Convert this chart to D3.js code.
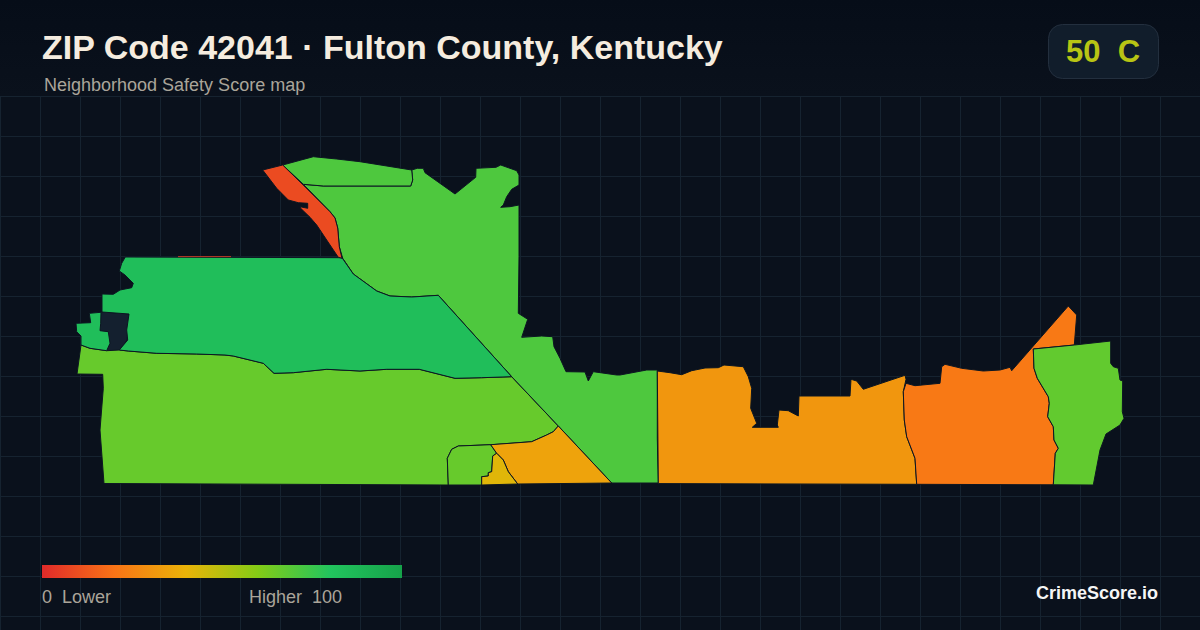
<!DOCTYPE html>
<html><head><meta charset="utf-8">
<script src="https://cdn.jsdelivr.net/npm/d3@7"></script>
<style>html,body{margin:0;padding:0;background:#0a111c}svg{display:block}text{white-space:pre;font-family:"Liberation Sans",Arial,sans-serif}</style>
</head><body><svg id="c" width="1200" height="630"></svg>
<script>
const titleText = "ZIP Code 42041 · Fulton County, Kentucky";
const subtitleText = "Neighborhood Safety Score map";
const badgeText = "50  C";
const brandText = "CrimeScore.io";
const legendLeft = "0  Lower";
const legendRight = "Higher  100";
const scoreStops = [0, 20, 40, 60, 80, 100];
const colorStops = ["#e02a2a", "#f97316", "#eab308", "#84cc16", "#22c55e", "#16a34a"];
const noDataColor = "#14202f";

// Boundaries in planar map units
const ringRed = [[262.7,170],[282.7,165],[305,186.7],[330,211.7],[335,218],[337.7,228],[339.3,246.7],[342,258.3],[338.3,257.3],[326.7,240],[316.7,225],[310,217.3],[300.7,208.3],[300,206.7],[307.7,208.3],[307.7,203.3],[298.3,202.7],[288.3,200],[276.7,188.3]];
const ringNorthStrip = [[282.7,165],[313.3,156.7],[336.7,159],[360,161.7],[411.7,170],[412.7,180],[410.7,186],[340,186],[323.3,186],[303.3,184.3]];
const ringNorth = [[303.3,184.3],[323.3,186],[340,186],[410.7,186],[412.7,180],[411.7,170],[417.3,168.3],[423.3,168.3],[425,172.7],[455,194],[475.7,177.3],[476,168.3],[496,167.3],[500.7,165],[516.7,170.7],[519,175],[519,185],[511.7,189.3],[506.7,196.7],[503.3,205],[500.7,207.3],[510,206.7],[519,205],[519,256.7],[518.3,313.3],[527.7,319.3],[521.7,337.3],[541.7,336],[552.7,336.7],[554,346.7],[560,358.3],[566,371.7],[585,372],[588.3,381],[593.3,371.7],[616.7,375],[620,375],[646.7,370],[657.3,370],[657.3,438.3],[658.3,483],[611.7,483],[558.3,426],[511.7,376.7],[438.3,295.3],[411.7,297],[390,296],[376.7,291],[353.3,274],[342.7,258.3],[339.3,246.7],[337.7,228],[335,218],[330,211.7]];
const ringWest = [[342,257.7],[125.3,257],[121.7,263.3],[119.3,271],[125,275],[133.3,283.3],[131.7,287.7],[120,290],[113.3,294.3],[102,294],[102,312],[129,314],[126.7,330],[127.7,340],[119.3,350],[128.3,351],[156.7,353.3],[196.7,354],[225,355],[233.3,356],[263.3,363.3],[274,373.3],[293.3,372.7],[326.7,369.3],[360,371],[386.7,369.3],[419.3,369.3],[455,378.3],[481.7,377.7],[511.7,376.7],[438.3,295.3],[411.7,297],[390,296],[376.7,291],[353.3,274]];
const ringWestBit = [[76,323.3],[90.7,322.7],[89.3,313.3],[101,312.3],[100.7,323.3],[100,330.7],[108.3,331.7],[110,343.3],[106.7,350.7],[90,348.3],[81,345],[81,336],[76.7,331.7]];
const ringNoData = [[101,312.3],[128.3,314.3],[126.7,340],[119.3,350],[106.7,350.5],[110,343.3],[108.3,331.7],[100,330.7],[100.7,323.3]];
const ringSouth = [[81,345],[77,374],[102.7,374.3],[103.3,388.3],[100,430],[104,483.5],[448.3,485],[447.3,458.3],[451.7,449.3],[458.3,446],[491.7,444.7],[531.7,441.7],[546.7,435],[553.3,431.7],[558.3,426],[511.7,376.7],[481.7,377.7],[455,378.3],[419.3,369.3],[386.7,369.3],[360,371],[326.7,369.3],[293.3,372.7],[274,373.3],[263.3,363.3],[233.3,356],[225,355],[196.7,354],[156.7,353.3],[128.3,351],[119.3,350],[106.7,350.7],[90,348.3]];
const ringInner = [[448.3,485],[447.3,458.3],[451.7,449.3],[458.3,446],[490.7,444.7],[496.7,453.3],[492.7,456],[491.7,471.7],[488.3,472.7],[488.3,476],[481.7,476.7],[481.7,485]];
const ringYellow = [[496.7,453.3],[503.3,460],[508.3,471.7],[517.7,484],[481.7,485],[481.7,476.7],[488.3,476],[488.3,472.7],[491.7,471.7],[492.7,456]];
const ringGold = [[490.7,444.7],[531.7,441.7],[546.7,435],[553.3,431.7],[558.3,426],[611.7,483],[517.7,484],[508.3,471.7],[503.3,460],[496.7,453.3]];
const ringCentral = [[657.3,371],[670,372.7],[681.7,374.7],[691.7,370.7],[705,368],[718.3,367.7],[724,365],[743.3,366.7],[748.3,376.7],[751.7,388.3],[750.7,408.3],[756.7,423.3],[752.3,427.3],[778.3,427.3],[777.3,425],[779,410],[788.3,410.7],[798.3,416],[799,396],[850,396],[851,379.3],[856.7,381],[863.3,389.3],[905,375.3],[906,379.3],[903.3,391.7],[904.3,420],[906.7,436.7],[915,458.3],[916.7,484.3],[658.3,483.6]];
const ringEast = [[906,383.3],[915,385.7],[940,383.3],[941.7,366.7],[945,364.3],[961.7,368.3],[983.3,371],[1000,370],[1010,367.3],[1011.7,370.7],[1068.3,306],[1076.7,315],[1074.3,345],[1033.3,349],[1034,368.3],[1037.3,378.3],[1048.3,396.7],[1049.3,403.3],[1047.7,416.7],[1053.3,426.7],[1054,440],[1058.3,448.3],[1055.3,453.3],[1053.3,484.8],[916.7,484.3],[915,458.3],[906.7,436.7],[904.3,420],[903.3,391.7]];
const ringFarEast = [[1033.3,349],[1074.3,345],[1110.7,341],[1110.7,363.3],[1113.3,366.7],[1118.3,368.3],[1120,380],[1122.7,381],[1122.3,411.7],[1124,418.3],[1120,425],[1106,434],[1100,450],[1093.3,485],[1053.3,484.8],[1055.3,453.3],[1058.3,448.3],[1054,440],[1053.3,426.7],[1047.7,416.7],[1049.3,403.3],[1048.3,396.7],[1037.3,378.3],[1034,368.3]];
const sliverLine = [[178,256.6],[231,256.6]];

const regionRings = [ringSouth, ringInner, ringNorth, ringNorthStrip, ringWest, ringWestBit, ringRed, ringGold, ringYellow, ringCentral, ringEast, ringFarEast];
const regionScores = [66, 66, 71, 71, 84, 84, 9, 35, 42, 31, 22, 67];
const sliverScore = 6;

const W = 1200, H = 630;
const svg = d3.select("#c");
const color = d3.scaleLinear().domain(scoreStops).range(colorStops).interpolate(d3.interpolateRgb);

svg.append("rect").attr("width", W).attr("height", H).attr("fill", "#0a111c");
const headGrad = svg.append("defs").append("linearGradient").attr("id","hg").attr("x1",0).attr("x2",0).attr("y1",0).attr("y2",1);
headGrad.append("stop").attr("offset",0).attr("stop-color","#060d18");
headGrad.append("stop").attr("offset",1).attr("stop-color","#0a111c");
svg.append("rect").attr("width", W).attr("height", 96).attr("fill", "url(#hg)");

// grid
const gx = d3.range(0, W + 1, 40), gy = d3.range(96, H + 1, 40);
const grid = svg.append("g").attr("stroke", "#162330").attr("stroke-width", 1);
grid.selectAll("line.v").data(gx).join("line").attr("class","v").attr("x1", d => d + .5).attr("x2", d => d + .5).attr("y1", 96).attr("y2", H);
grid.selectAll("line.h").data(gy).join("line").attr("class","h").attr("x1", 0).attr("x2", W).attr("y1", d => d + .5).attr("y2", d => d + .5);

// map
const path = d3.geoPath(d3.geoIdentity());
const feature = ring => ({type:"Polygon", coordinates:[ring.concat([ring[0]])]});
const map = svg.append("g").attr("stroke", "#0c1622").attr("stroke-width", 1).attr("stroke-linejoin","round");
map.append("path").datum(feature(ringNoData)).attr("d", path).attr("fill", noDataColor).attr("stroke","none");
map.selectAll("path.r").data(regionRings).join("path").attr("class","r")
  .attr("d", d => path(feature(d))).attr("fill", (d,i) => color(regionScores[i]));
map.append("path").datum({type:"LineString", coordinates:sliverLine}).attr("d", path).attr("fill","none").attr("stroke", color(sliverScore)).attr("stroke-opacity",.8).attr("stroke-width",1);

// header
svg.append("text").attr("x",42).attr("y",59).attr("font-size",34).attr("font-weight",700).attr("fill","#f5ecdf").text(titleText);
svg.append("text").attr("x",44).attr("y",91).attr("font-size",18).attr("fill","#aaa59a").text(subtitleText);
svg.append("rect").attr("x",1048.5).attr("y",24.5).attr("width",110).attr("height",54).attr("rx",14).attr("fill","#111d2b").attr("stroke","#232f3e");
svg.append("text").attr("x",1103).attr("y",62).attr("text-anchor","middle").attr("font-size",31).attr("font-weight",700).attr("fill","#b8c414").text(badgeText);

// legend
const lg = svg.select("defs").append("linearGradient").attr("id","lg");
lg.selectAll("stop").data(scoreStops).join("stop").attr("offset", d => d + "%").attr("stop-color", d => color(d));
const lx = d3.scaleLinear().domain([0,100]).range([42,402]);
svg.append("rect").attr("x",lx(0)).attr("y",565).attr("width",lx(100)-lx(0)).attr("height",13).attr("fill","url(#lg)");
svg.append("text").attr("x",42).attr("y",603).attr("font-size",18).attr("fill","#aaa59a").text(legendLeft);
svg.append("text").attr("x",249).attr("y",603).attr("font-size",18).attr("fill","#aaa59a").text(legendRight);
svg.append("text").attr("x",1158).attr("y",599).attr("text-anchor","end").attr("font-size",18).attr("font-weight",700).attr("fill","#f5f5f5").text(brandText);
</script></body></html>
